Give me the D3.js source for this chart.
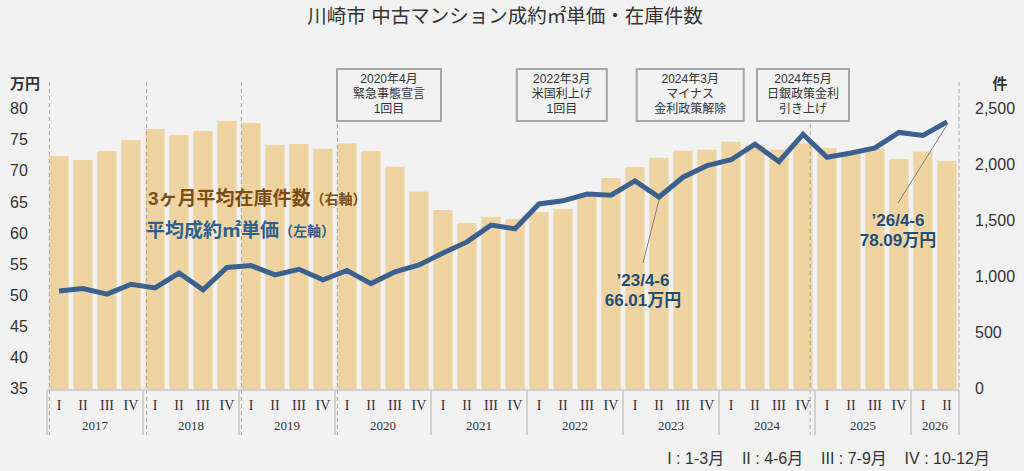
<!DOCTYPE html>
<html>
<head>
<meta charset="utf-8">
<script src="https://cdn.jsdelivr.net/npm/d3@7"></script>
<style>
  body { margin: 0; background: #f2f2f2; }
  svg { display: block; font-family: "Liberation Sans", "Noto Sans CJK JP", sans-serif; }
</style>
</head>
<body>
<svg width="1024" height="471"></svg>
<script>
let years = ["2017", "2018", "2019", "2020", "2021", "2022", "2023", "2024", "2025", "2026"]
let quarterNames = ["I", "II", "III", "IV"]

// 3ヶ月平均在庫件数 (right axis)
let stock = [
    2089, 2054, 2134, 2232,
    2330, 2277, 2313, 2402,
    2384, 2188, 2196, 2152,
    2202, 2134, 1994, 1771,
    1607, 1491, 1545, 1527,
    1589, 1616, 1725, 1893,
    1991, 2074, 2137, 2146,
    2217, 2190, 2146, 2203,
    2161, 2116, 2154, 2063,
    2128, 2045
]

// 平均成約㎡単価 (left axis, 万円)
let price = [
    50.9, 51.3, 50.4, 52.0,
    51.4, 53.8, 51.1, 54.7,
    55.0, 53.5, 54.4, 52.7,
    54.2, 52.1, 54.0, 55.1,
    57.0, 58.8, 61.5, 60.9,
    64.9, 65.4, 66.5, 66.3,
    68.6, 66.01, 69.2, 71.05,
    72.0, 74.5, 71.7, 76.1,
    72.4, 73.1, 73.9, 76.4,
    75.9, 78.09
]

let leftTicks = [35, 40, 45, 50, 55, 60, 65, 70, 75, 80]
let rightTicks = [0, 500, 1000, 1500, 2000, 2500]

let events = [
    ["2020年4月", "緊急事態宣言", "1回目"],
    ["2022年3月", "米国利上げ", "1回目"],
    ["2024年3月", "マイナス", "金利政策解除"],
    ["2024年5月", "日銀政策金利", "引き上げ"]
]
// index positions (in quarters) of the dashed guide lines
let guideIdx = [0.1, 4.15, 8.1, 12.1, 31.8, 38]

let callouts = [
    { i: 25, label: "’23/4-6", value: "66.01万円" },
    { i: 37, label: "’26/4-6", value: "78.09万円" }
]

let cats = stock.map((d, i) => years[Math.floor(i / 4)] + "-" + quarterNames[i % 4])

let margin = { left: 47, right: 65, top: 110, bottom: 81 },
    W = 1024, H = 471
let x = d3.scaleBand().domain(cats).range([margin.left, W - margin.right]).paddingInner(0.2).paddingOuter(0.1)
let xi = d3.scaleLinear().domain([0, cats.length]).range([margin.left, W - margin.right])
let yL = d3.scaleLinear().domain([35, 80]).range([H - margin.bottom, margin.top])
let yR = d3.scaleLinear().domain([0, 2500]).range([H - margin.bottom, margin.top])

let svg = d3.select("svg")
let base = H - margin.bottom

svg.append("text")
    .attr("x", 505).attr("y", 18)
    .attr("text-anchor", "middle").attr("dominant-baseline", "middle")
    .style("font-size", "19.5px").style("fill", "#333")
    .text("川崎市 中古マンション成約㎡単価・在庫件数")

// bars
svg.append("g").selectAll("rect")
    .data(stock)
    .join("rect")
    .attr("x", (d, i) => x(cats[i]))
    .attr("width", x.bandwidth())
    .attr("y", d => yR(d))
    .attr("height", d => base - yR(d))
    .attr("fill", "#efd4a2")

// dashed guides
svg.append("g").selectAll("line")
    .data(guideIdx)
    .join("line")
    .attr("x1", d => xi(d)).attr("x2", d => xi(d))
    .attr("y1", 82).attr("y2", 435)
    .attr("stroke", "#a6a6a6").attr("stroke-width", 1)
    .attr("stroke-dasharray", "4,3")

// x axis
let ax = svg.append("g")
ax.append("line")
    .attr("x1", xi(0)).attr("x2", xi(cats.length))
    .attr("y1", base).attr("y2", base)
    .attr("stroke", "#d0d0d0").attr("stroke-width", 2)
let yearBounds = years.map((y, k) => k * 4).concat([cats.length])
ax.selectAll(".sep")
    .data(yearBounds)
    .join("line")
    .attr("class", "sep")
    .attr("x1", d => xi(d)).attr("x2", d => xi(d))
    .attr("y1", base).attr("y2", 435)
    .attr("stroke", "#d0d0d0").attr("stroke-width", 2)
ax.selectAll(".q")
    .data(cats)
    .join("text")
    .attr("class", "q")
    .attr("x", d => x(d) + x.bandwidth() / 2)
    .attr("y", 407)
    .attr("text-anchor", "middle").attr("dominant-baseline", "middle")
    .style("font-family", "'Liberation Serif', serif").style("font-size", "14px").style("fill", "#333")
    .text(d => d.split("-")[1])
ax.selectAll(".yr")
    .data(years)
    .join("text")
    .attr("class", "yr")
    .attr("x", (d, k) => (xi(k * 4) + xi(Math.min(k * 4 + 4, cats.length))) / 2)
    .attr("y", 427)
    .attr("text-anchor", "middle").attr("dominant-baseline", "middle")
    .style("font-family", "'Liberation Serif', serif").style("font-size", "13px").style("fill", "#333")
    .text(d => d)

// y axes labels
svg.append("g").selectAll("text")
    .data(leftTicks)
    .join("text")
    .attr("x", 10).attr("y", d => yL(d))
    .attr("dominant-baseline", "middle")
    .style("font-size", "16px").style("fill", "#333")
    .text(d => d)
svg.append("g").selectAll("text")
    .data(rightTicks)
    .join("text")
    .attr("x", 975).attr("y", d => yR(d))
    .attr("dominant-baseline", "middle")
    .style("font-size", "16px").style("fill", "#333")
    .text(d => d3.format(",")(d))
svg.append("text").attr("x", 10).attr("y", 85).attr("dominant-baseline", "middle")
    .style("font-size", "15px").style("font-weight", "bold").style("fill", "#333").text("万円")
svg.append("text").attr("x", 1000).attr("y", 85).attr("text-anchor", "middle").attr("dominant-baseline", "middle")
    .style("font-size", "15px").style("font-weight", "bold").style("fill", "#333").text("件")

// price line
let line = d3.line()
    .x((d, i) => x(cats[i]) + x.bandwidth() / 2)
    .y(d => yL(d))
svg.append("path")
    .datum(price)
    .attr("d", line)
    .attr("fill", "none")
    .attr("stroke", "#3b6190")
    .attr("stroke-width", 5)
    .attr("stroke-linejoin", "miter")

// event boxes
let boxPos = [[14.25, 104], [21.45, 90], [26.8, 107], [31.5, 92]]
let eg = svg.append("g").selectAll("g")
    .data(events)
    .join("g")
    .attr("transform", (d, k) => "translate(" + xi(boxPos[k][0]) + ",0)")
eg.append("rect")
    .attr("x", (d, k) => -boxPos[k][1] / 2).attr("width", (d, k) => boxPos[k][1])
    .attr("y", 69).attr("height", 52)
    .attr("fill", "#f2f2f2").attr("stroke", "#a6a6a6").attr("stroke-width", 2)
eg.selectAll("text")
    .data(d => d)
    .join("text")
    .attr("x", 0).attr("y", (d, j) => 80 + j * 15)
    .attr("text-anchor", "middle").attr("dominant-baseline", "middle")
    .style("font-size", "12px").style("fill", "#333")
    .text(d => d)

// legend labels
let lg1 = svg.append("text").attr("x", 148).attr("y", 200).attr("dominant-baseline", "middle")
    .style("font-weight", "bold").style("fill", "#7d4e14")
lg1.append("tspan").style("font-size", "19px").text("3ヶ月平均在庫件数")
lg1.append("tspan").style("font-size", "14px").text("（右軸）")
let lg2 = svg.append("text").attr("x", 146).attr("y", 232).attr("dominant-baseline", "middle")
    .style("font-weight", "bold").style("fill", "#2e6090")
lg2.append("tspan").style("font-size", "19px").text("平均成約㎡単価")
lg2.append("tspan").style("font-size", "14px").text("（左軸）")

// callouts
let cg = svg.append("g").selectAll("g")
    .data(callouts)
    .join("g")
let cx = d => x(cats[d.i]) + x.bandwidth() / 2
let offs = [{ dx: -16, ly: 263, ty: 282 }, { dx: -49, ly: 203, ty: 222 }]
cg.append("line")
    .attr("x1", cx).attr("y1", d => yL(price[d.i]) + 3)
    .attr("x2", (d, k) => cx(d) + offs[k].dx).attr("y2", (d, k) => offs[k].ly)
    .attr("stroke", "#7f7f7f").attr("stroke-width", 1)
cg.append("text")
    .attr("x", (d, k) => cx(d) + offs[k].dx).attr("y", (d, k) => offs[k].ty)
    .attr("text-anchor", "middle").attr("dominant-baseline", "middle")
    .style("font-size", "17px").style("font-weight", "bold").style("fill", "#1f4e79")
    .text(d => d.label)
cg.append("text")
    .attr("x", (d, k) => cx(d) + offs[k].dx).attr("y", (d, k) => offs[k].ty + 20)
    .attr("text-anchor", "middle").attr("dominant-baseline", "middle")
    .style("font-size", "17px").style("font-weight", "bold").style("fill", "#1f4e79")
    .text(d => d.value)

// footnote
svg.append("text").attr("x", 990).attr("y", 460).attr("text-anchor", "end").attr("dominant-baseline", "middle")
    .style("font-size", "16px").style("fill", "#333")
    .attr("xml:space", "preserve")
    .text("I : 1-3月    II : 4-6月    III : 7-9月    IV : 10-12月")
</script>
</body>
</html>
